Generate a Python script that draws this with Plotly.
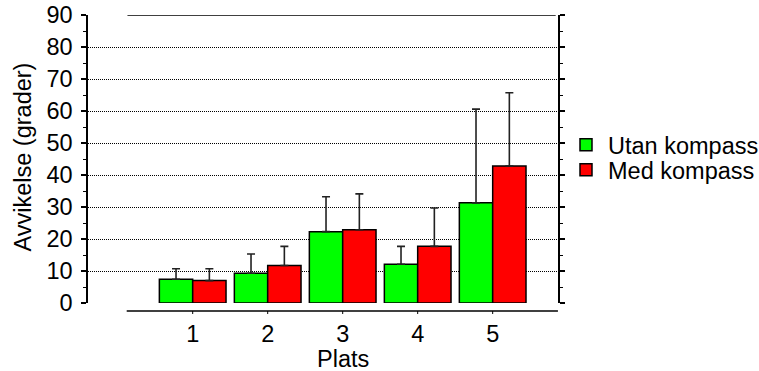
import plotly.graph_objects as go

# ---- data ----
places = [1, 2, 3, 4, 5]
tick_labels = ["1", "2", "3", "4", "5"]
utan_vals = [7.4, 9.3, 22.3, 12.1, 31.3]
utan_err = [3.3, 6.0, 10.9, 5.6, 29.3]
med_vals = [7.0, 11.7, 22.9, 17.7, 42.8]
med_err = [3.7, 6.0, 11.2, 12.0, 22.9]
series_names = ["Utan kompass", "Med kompass"]

FONT = "Arial, Liberation Sans, sans-serif"
FS = 23.5
PH = 288.0  # plot height in px
PW = 470.0  # plot width in px

fig = go.Figure()
for name, vals, errs, col, leg in [
    (series_names[0], utan_vals, utan_err, "#00ff00", "legend"),
    (series_names[1], med_vals, med_err, "#ff0000", "legend2"),
]:
    fig.add_trace(go.Bar(
        x=places, y=vals, name=name, legend=leg,
        marker=dict(color=col, line=dict(color="#000000", width=1.5)),
        error_y=dict(type="data", symmetric=False, array=errs,
                     arrayminus=[0] * len(errs),
                     color="#222222", thickness=1.6, width=4),
    ))

xmin, xmax = -0.396, 5.871
shapes = []
shapes.append(dict(type="line", xref="x", yref="paper", x0=0.12, x1=5.87,
                   y0=-8 / PH, y1=-8 / PH, line=dict(color="#000", width=1.5)))
shapes.append(dict(type="line", xref="x", yref="y", x0=0.13, x1=5.84,
                   y0=90, y1=90, line=dict(color="#000", width=1.5)))
for p in places:
    shapes.append(dict(type="line", xref="x", yref="paper", x0=p, x1=p,
                       y0=-8 / PH, y1=-11 / PH, line=dict(color="#000", width=1)))

annotations = [
    dict(text="Plats", x=3, xref="x", y=-56 / PH, yref="paper",
         showarrow=False, yanchor="middle", font=dict(size=FS, family=FONT, color="#000")),
    dict(text="Avvikelse (grader)", textangle=-90, x=(22.5 - 88) / PW, xref="paper",
         y=(303 - 157) / PH, yref="paper", showarrow=False, xanchor="center", yanchor="middle",
         font=dict(size=FS, family=FONT, color="#000")),
]

leg_common = dict(xanchor="left", yanchor="middle", itemwidth=34,
                  font=dict(size=FS, family=FONT, color="#000"),
                  bgcolor="rgba(0,0,0,0)", borderwidth=0)

fig.update_layout(
    width=759, height=371,
    margin=dict(l=88, r=201, t=15, b=68, pad=0, autoexpand=False),
    paper_bgcolor="white", plot_bgcolor="white",
    barmode="group", bargap=0.111, bargroupgap=0,
    font=dict(family=FONT, size=FS, color="#000"),
    showlegend=True,
    legend=dict(x=(564 - 88) / PW, y=(303 - 145) / PH, **leg_common),
    legend2=dict(x=(564 - 88) / PW, y=(303 - 170) / PH, **leg_common),
    shapes=shapes,
    annotations=annotations,
    xaxis=dict(range=[xmin, xmax], tickvals=places, ticktext=tick_labels,
               showline=False, showgrid=False, zeroline=False, ticks="",
               automargin=False,
               ticklabelstandoff=14, tickfont=dict(size=FS, family=FONT, color="#000")),
    yaxis=dict(range=[0, 90], dtick=10, tick0=0, showline=True, linecolor="#000",
               linewidth=1.5, mirror="ticks", ticks="outside", ticklen=5,
               tickwidth=1.5, tickcolor="#000", automargin=False,
               minor=dict(dtick=5, ticks="outside", ticklen=3, tickcolor="#000", tickwidth=1),
               showgrid=True, gridcolor="#000", griddash="1px,1px", gridwidth=1,
               zeroline=False, ticklabelstandoff=4,
               tickfont=dict(size=FS, family=FONT, color="#000")),
)

fig.write_html("out.html", config={"displayModeBar": False},
               post_script="document.body.style.margin='0px';document.body.style.overflow='hidden';")
